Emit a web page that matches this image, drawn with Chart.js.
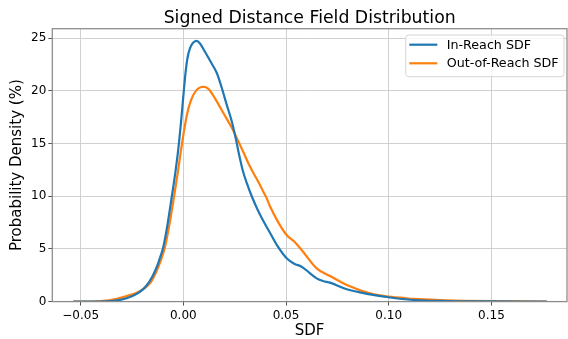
<!DOCTYPE html>
<html>
<head>
<meta charset="utf-8">
<script src="https://cdn.jsdelivr.net/npm/chart.js@4/dist/chart.umd.min.js"></script>
<style>
html,body{margin:0;padding:0;background:#fff;}
#wrap{width:568px;height:339px;position:relative;}
</style>
</head>
<body>
<div id="wrap"><canvas id="c"></canvas></div>
<script>
// ---- data ----
const titleText = "Signed Distance Field Distribution";
const xTitle = "SDF";
const yTitle = "Probability Density (%)";
const seriesNames = ["In-Reach SDF", "Out-of-Reach SDF"];

const inReachX = [-0.0536,-0.045,-0.038,-0.033,-0.028,-0.024,-0.021,-0.018,-0.015,-0.0125,-0.0113,-0.010,-0.0089,-0.0078,-0.0056,-0.0040,-0.0025,-0.0012,0.0000,0.0010,0.0020,0.0033,0.0049,0.0065,0.0081,0.0106,0.0138,0.0163,0.0187,0.0211,0.0236,0.0255,0.0271,0.0290,0.0310,0.0333,0.0360,0.0387,0.0423,0.0455,0.0503,0.0540,0.0576,0.0610,0.0649,0.0680,0.0714,0.0796,0.0909,0.0998,0.112,0.128,0.150,0.177];
const inReachY = [0.0,0.0,0.02,0.1,0.3,0.6,0.94,1.5,2.4,3.5,4.2,5.0,6.0,7.2,10.0,12.1,14.4,16.9,19.5,21.6,23.1,24.1,24.6,24.75,24.5,23.7,22.6,21.7,20.3,18.7,17.1,15.5,14.0,12.4,11.2,10.0,8.8,7.75,6.49,5.38,4.11,3.6,3.31,2.8,2.21,1.95,1.8,1.17,0.69,0.41,0.15,0.05,0.02,0.0];

const outReachX = [-0.0536,-0.045,-0.039,-0.033,-0.028,-0.0227,-0.019,-0.016,-0.0135,-0.011,-0.0089,-0.0067,-0.0045,-0.0025,-0.0012,0.0000,0.0017,0.0037,0.0065,0.0097,0.0122,0.0154,0.0195,0.0236,0.0268,0.0292,0.0320,0.0350,0.0375,0.0390,0.0406,0.0423,0.0463,0.0503,0.0540,0.0576,0.0649,0.0714,0.0796,0.0909,0.0998,0.106,0.112,0.128,0.150,0.177];
const outReachY = [0.0,0.01,0.06,0.25,0.5,0.85,1.25,1.8,2.7,3.9,5.2,7.4,10.0,12.5,14.3,15.8,17.7,19.1,20.1,20.4,20.2,19.3,17.9,16.5,15.2,14.2,13.0,11.9,11.0,10.4,9.8,9.0,7.5,6.32,5.7,4.9,3.16,2.43,1.58,0.79,0.47,0.38,0.25,0.13,0.05,0.0];

const xTicks = [-0.05, 0.00, 0.05, 0.10, 0.15];
const yTicks = [0, 5, 10, 15, 20, 25];
const xRange = [-0.0638, 0.1868];
const yRange = [0, 25.91];
const colors = ["#1f77b4", "#ff7f0e"];

function pts(xs, ys){ return xs.map((x,i)=>({x:x, y:ys[i]})); }

const FONT = "'DejaVu Sans', sans-serif";

const framePlugin = {
  id: 'frame',
  afterDraw(chart){
    const ctx = chart.ctx, a = chart.chartArea;
    ctx.save();
    ctx.strokeStyle = '#8a8a8a';
    ctx.lineWidth = 1.25;
    ctx.strokeRect(a.left, a.top, a.right - a.left, a.bottom - a.top);
    ctx.fillStyle = '#000';
    ctx.font = "17.3px " + FONT;
    ctx.textAlign = 'center';
    ctx.textBaseline = 'alphabetic';
    ctx.fillText(titleText, (a.left + a.right)/2, 23.3);
    const lx = 405.7, ly = 35, lw = 158.3, lh = 41.7, r = 3;
    ctx.beginPath();
    ctx.moveTo(lx + r, ly);
    ctx.arcTo(lx + lw, ly, lx + lw, ly + lh, r);
    ctx.arcTo(lx + lw, ly + lh, lx, ly + lh, r);
    ctx.arcTo(lx, ly + lh, lx, ly, r);
    ctx.arcTo(lx, ly, lx + lw, ly, r);
    ctx.closePath();
    ctx.fillStyle = 'rgba(255,255,255,0.8)';
    ctx.fill();
    ctx.strokeStyle = '#d6d6d6';
    ctx.lineWidth = 1;
    ctx.stroke();
    const rowsY = [44.7, 63.3];
    chart.data.datasets.forEach((ds, i) => {
      ctx.strokeStyle = ds.borderColor;
      ctx.lineWidth = 2.2;
      ctx.beginPath();
      ctx.moveTo(409.3, rowsY[i]);
      ctx.lineTo(437.3, rowsY[i]);
      ctx.stroke();
      ctx.fillStyle = '#000';
      ctx.font = "12.7px " + FONT;
      ctx.textAlign = 'left';
      ctx.textBaseline = 'middle';
      ctx.fillText(ds.label, 446.7, rowsY[i] + 0.5);
    });
    ctx.restore();
  }
};

const fmt = v => {
  const s = Math.abs(v) < 1e-9 ? "0.00" : v.toFixed(2);
  return s.replace('-', '\u2212');
};

new Chart(document.getElementById('c'), {
  type: 'line',
  data: {
    datasets: [
      { label: seriesNames[0], data: pts(inReachX, inReachY), borderColor: colors[0], backgroundColor: colors[0], borderWidth: 2.2, pointRadius: 0, cubicInterpolationMode: 'monotone', fill: false },
      { label: seriesNames[1], data: pts(outReachX, outReachY), borderColor: colors[1], backgroundColor: colors[1], borderWidth: 2.2, pointRadius: 0, cubicInterpolationMode: 'monotone', fill: false }
    ]
  },
  options: {
    responsive: true,
    maintainAspectRatio: false,
    animation: false,
    devicePixelRatio: 1,
    layout: { padding: { top: 28.7, left: 0, right: 1, bottom: 0 } },
    plugins: { legend: { display: false }, title: { display: false }, tooltip: { enabled: false } },
    scales: {
      x: {
        type: 'linear',
        min: xRange[0], max: xRange[1],
        afterFit(s){ s.height = 37.4; },
        afterBuildTicks(s){ s.ticks = xTicks.map(v => ({value: v})); },
        ticks: { font: { family: FONT, size: 12 }, color: '#000', padding: 3, maxRotation: 0, autoSkip: false, callback: v => fmt(v) },
        grid: { color: '#d0d0d0', lineWidth: 1, tickLength: 4, tickColor: '#555', drawOnChartArea: true },
        border: { display: false },
        title: { display: true, text: xTitle, color: '#000', font: { family: FONT, size: 15, lineHeight: 1 }, padding: { top: 0, bottom: 0.5 } }
      },
      y: {
        type: 'linear',
        min: yRange[0], max: yRange[1],
        afterFit(s){ s.width = 52.3; },
        afterBuildTicks(s){ s.ticks = yTicks.map(v => ({value: v})); },
        ticks: { font: { family: FONT, size: 12 }, color: '#000', padding: 2, autoSkip: false, callback: v => String(v) },
        grid: { color: '#d0d0d0', lineWidth: 1, tickLength: 4, tickColor: '#555' },
        border: { display: false },
        title: { display: true, text: yTitle, color: '#000', font: { family: FONT, size: 15, lineHeight: 1 }, padding: { top: 9.2, bottom: 0 } }
      }
    }
  },
  plugins: [framePlugin]
});
</script>
</body>
</html>
